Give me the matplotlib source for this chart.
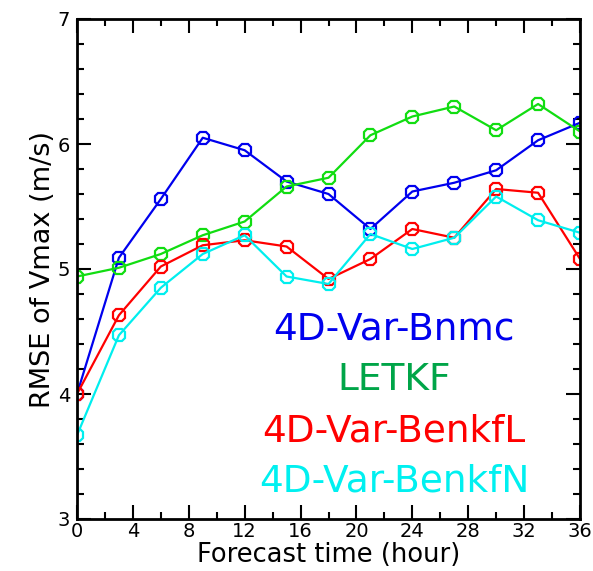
import matplotlib
matplotlib.use("Agg")
import matplotlib.pyplot as plt
from matplotlib.ticker import MultipleLocator

hours = [0, 3, 6, 9, 12, 15, 18, 21, 24, 27, 30, 33, 36]
bnmc = [4.00, 5.09, 5.56, 6.05, 5.95, 5.70, 5.60, 5.32, 5.62, 5.69, 5.79, 6.03, 6.17]
letkf = [4.94, 5.01, 5.12, 5.27, 5.38, 5.66, 5.73, 6.07, 6.22, 6.30, 6.11, 6.32, 6.10]
benkfl = [4.00, 4.63, 5.02, 5.19, 5.23, 5.18, 4.92, 5.08, 5.32, 5.25, 5.64, 5.61, 5.08]
benkfn = [3.67, 4.47, 4.85, 5.12, 5.27, 4.94, 4.88, 5.28, 5.16, 5.25, 5.58, 5.39, 5.29]
names = ["4D-Var-Bnmc", "LETKF", "4D-Var-BenkfL", "4D-Var-BenkfN"]
colors = ["#0000ee", "#11dd11", "#ff0000", "#00eeee"]
text_colors = ["#0000ee", "#00a548", "#ff0000", "#00f0f0"]

fig = plt.figure(figsize=(5.93, 5.71), dpi=100)
ax = fig.add_axes([77/593, 52/571, 503/593, 500/571])

for vals, c in zip([bnmc, letkf, benkfl, benkfn], colors):
    ax.plot(hours, vals, color=c, lw=1.6, marker='8', ms=10, mfc='none', mec=c, mew=1.6)

ax.set_xlim(0, 36)
ax.set_ylim(3, 7)
ax.xaxis.set_major_locator(MultipleLocator(4))
ax.xaxis.set_minor_locator(MultipleLocator(2))
ax.yaxis.set_major_locator(MultipleLocator(1))
ax.yaxis.set_minor_locator(MultipleLocator(0.2))
ax.tick_params(which='both', direction='in', top=True, right=True, width=1.5, labelsize=14)
ax.tick_params(axis='x', pad=2)
ax.tick_params(axis='y', pad=5)
ax.tick_params(which='major', length=10)
ax.tick_params(which='minor', length=5)
for s in ax.spines.values():
    s.set_linewidth(2)

ax.set_xlabel("Forecast time (hour)", fontsize=18.5, labelpad=1)
ax.set_ylabel("RMSE of Vmax (m/s)", fontsize=19.5, labelpad=1)

ypos = [340, 390, 442, 492]
for n, c, yp in zip(names, text_colors, ypos):
    fig.text(394/593, 1 - yp/571, n, color=c, fontsize=27, ha='center', va='baseline')

fig.savefig("out.png", dpi=100)
